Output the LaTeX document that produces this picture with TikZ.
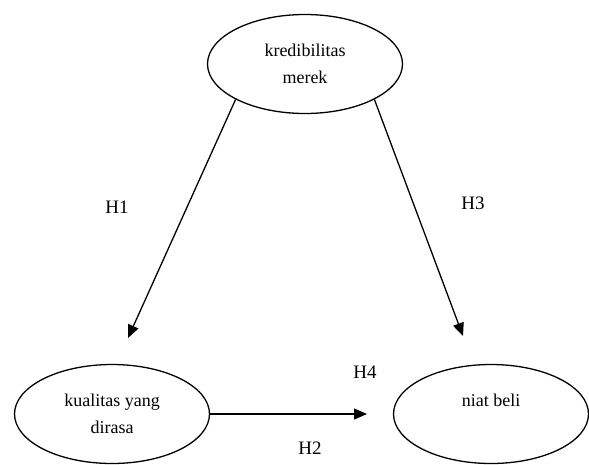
\documentclass[tikz,border=0pt]{standalone}
\usepackage{fontspec}
\setmainfont{Liberation Serif}
\usetikzlibrary{shapes.geometric,arrows.meta}

\begin{document}
\begin{tikzpicture}[x=1pt,y=-1pt,>={Triangle[length=13pt,width=11pt]},line width=1.3pt,
    var node/.style={ellipse,draw,minimum width=195pt,minimum height=99pt,inner sep=0pt,align=center,font=\fontsize{18}{27}\selectfont},
    hyp node/.style={inner sep=0pt,font=\fontsize{19}{24}\selectfont}]

            \useasboundingbox (0,0) rectangle (589,464);

            \node[var node] (kred) at (305,64) {kredibilitas\\merek};
            \node[var node] (kual) at (112,414) {kualitas yang\\dirasa};
            \node[var node] (niat) at (491,414) {niat beli\\\phantom{x}};

            \coordinate (h1end) at (128,338);
            \coordinate (h3end) at (463,336);
            \coordinate (h4end) at (367,414);

            \node[hyp node] (h1) at (117,207) {H1};
            \node[hyp node] (h3) at (473,203) {H3};
            \node[hyp node] (h4) at (365,372) {H4};
            \node[hyp node] (h2) at (310,448) {H2};

            \draw[->] (kred.south west) to (h1end);
            \draw[->] (kred.south east) to (h3end);
            \draw[->] (kual.east) to (h4end);

        \end{tikzpicture}
\end{document}
